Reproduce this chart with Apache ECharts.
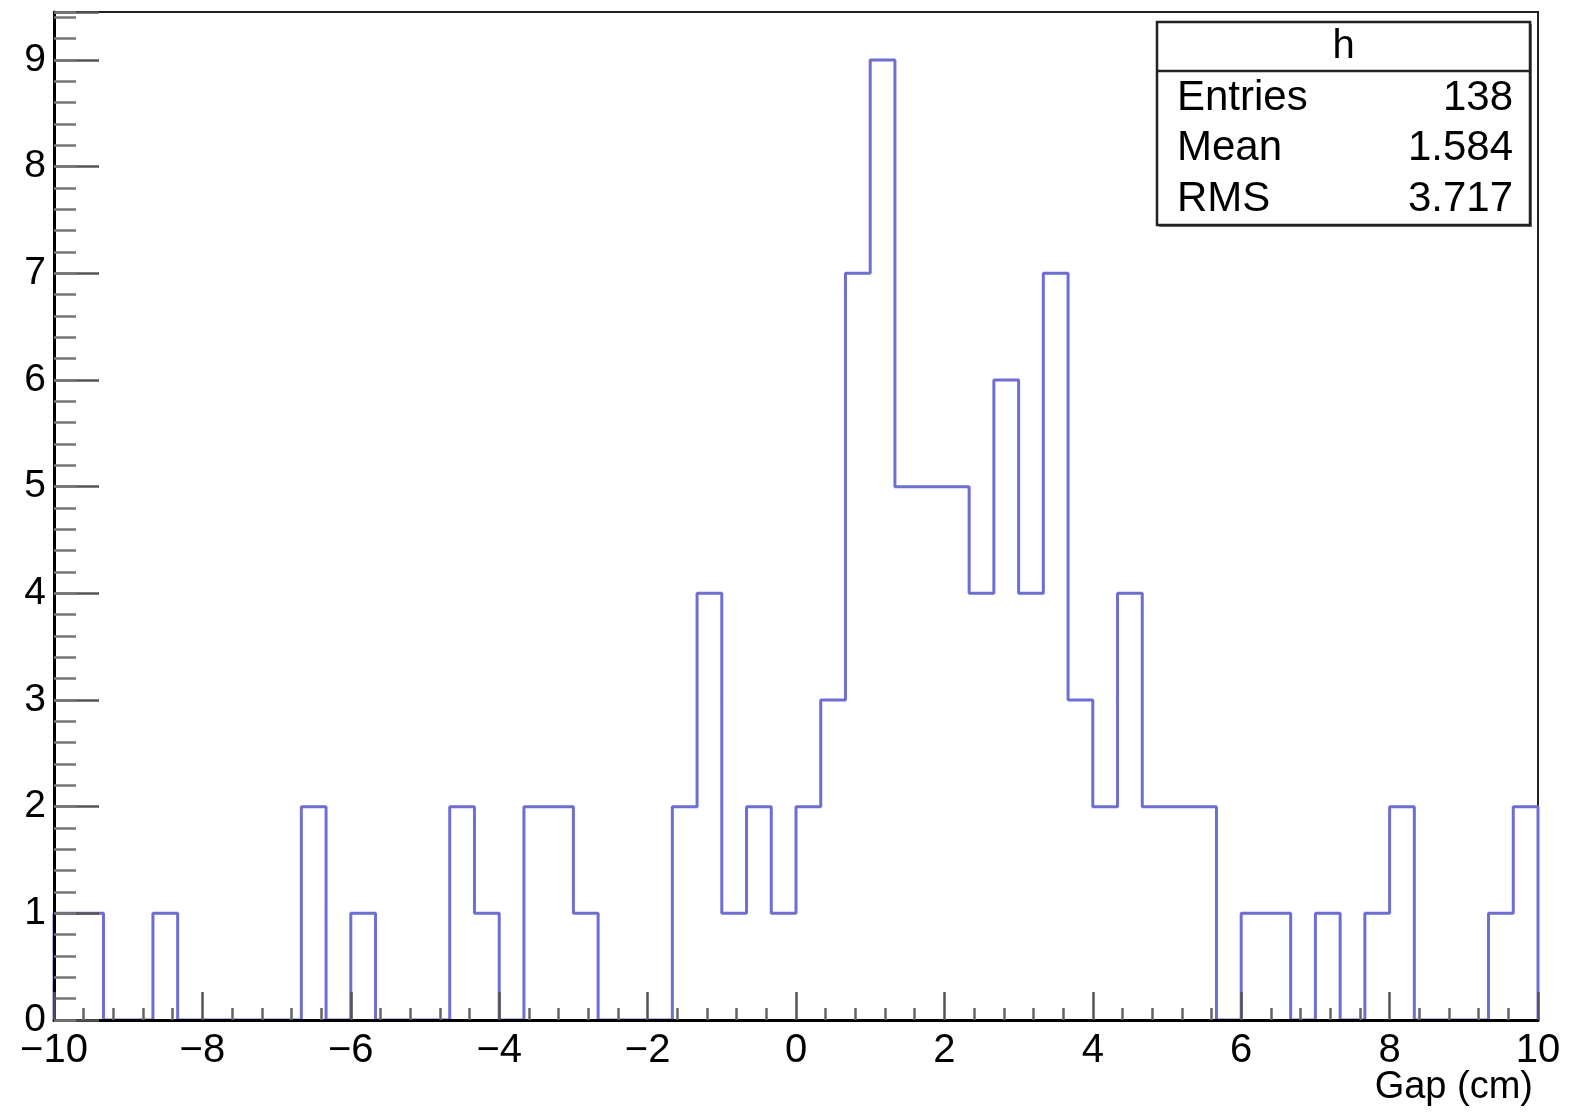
<!DOCTYPE html>
<html>
<head>
<meta charset="utf-8">
<script src="https://cdn.jsdelivr.net/npm/echarts@6/dist/echarts.min.js"></script>
<style>
  html, body { margin: 0; padding: 0; background: #fff; }
  #chart { width: 1569px; height: 1113px; }
</style>
</head>
<body>
<div id="chart"></div>
<script>
// histogram "h": 60 bins from -10 to 10
var xRange = [-10, 10];
var counts = [1, 1, 0, 0, 1, 0, 0, 0, 0, 0,
              2, 0, 1, 0, 0, 0, 2, 1, 0, 2,
              2, 1, 0, 0, 0, 2, 4, 1, 2, 1,
              2, 3, 7, 9, 5, 5, 5, 4, 6, 4,
              7, 3, 2, 4, 2, 2, 2, 0, 1, 1,
              0, 1, 0, 1, 2, 0, 0, 0, 1, 2];
var yMax = 9.45;
var statsTitle = 'h';
var statsLabels = ['Entries', 'Mean', 'RMS'];
var statsValues = ['138', '1.584', '3.717'];
var xTitle = 'Gap (cm)';

var FONT = '"Liberation Sans", Arial, Helvetica, sans-serif';

// outline points of the histogram (bin edges -> counts)
var binW = (xRange[1] - xRange[0]) / counts.length;
var outline = [[xRange[0], 0]];
counts.forEach(function (v, i) {
    var lo = xRange[0] + i * binW;
    outline.push([lo, v], [lo + binW, v]);
});
outline.push([xRange[1], 0]);

function minus(v) {
    return String(v).replace('-', '\u2212');
}

var chart = echarts.init(document.getElementById('chart'));

// stats box
var boxL = 1157, boxT = 22, boxW = 373, boxH = 203;
var statsGraphics = [
    { type: 'rect', shape: { x: boxL + 2, y: boxT + 2, width: boxW, height: boxH },
      style: { fill: '#777', stroke: null }, z: 9 },
    { type: 'rect', shape: { x: boxL, y: boxT, width: boxW, height: boxH },
      style: { fill: '#fff', stroke: '#222', lineWidth: 2.5 }, z: 10 },
    { type: 'line', shape: { x1: boxL, y1: 71, x2: boxL + boxW, y2: 71 },
      style: { stroke: '#222', lineWidth: 2.5 }, z: 11 },
    { type: 'text', x: boxL + boxW / 2, y: 47, z: 11,
      style: { text: statsTitle, font: '40px ' + FONT, fill: '#000', align: 'center', verticalAlign: 'middle' } }
];
statsLabels.forEach(function (lab, i) {
    var y = 98 + i * 50.5;
    statsGraphics.push(
        { type: 'text', x: 1177, y: y, z: 11,
          style: { text: lab, font: '42px ' + FONT, fill: '#000', align: 'left', verticalAlign: 'middle' } },
        { type: 'text', x: 1513, y: y, z: 11,
          style: { text: statsValues[i], font: '42px ' + FONT, fill: '#000', align: 'right', verticalAlign: 'middle' } }
    );
});
statsGraphics.push({
    type: 'text', x: 1533, y: 1088, z: 11,
    style: { text: xTitle, font: '38px ' + FONT, fill: '#000', align: 'right', verticalAlign: 'middle' }
});

var option = {
    backgroundColor: '#fff',
    animation: false,
    grid: {
        left: 54, right: 31, top: 12, bottom: 93,
        show: true, borderColor: '#222', borderWidth: 2, backgroundColor: 'transparent'
    },
    xAxis: {
        type: 'value',
        min: xRange[0], max: xRange[1], interval: 2,
        z: 5,
        axisLine: { show: true, onZero: false, lineStyle: { color: '#000', width: 3 } },
        axisTick: { show: true, inside: true, length: 28, lineStyle: { color: '#555', width: 2.5 } },
        minorTick: { show: true, splitNumber: 5, length: 12, lineStyle: { color: '#666', width: 2.5 } },
        splitLine: { show: false },
        axisLabel: {
            color: '#000', fontSize: 40, fontFamily: FONT, margin: 11,
            formatter: function (v) { return minus(v); }
        }
    },
    yAxis: [{
        type: 'value',
        min: 0, max: yMax, interval: 1,
        z: 5,
        axisLine: { show: true, onZero: false, lineStyle: { color: '#000', width: 3 } },
        axisTick: { show: true, inside: true, length: 45, lineStyle: { color: '#555', width: 2.5 } },
        splitLine: { show: false },
        axisLabel: {
            color: '#000', fontSize: 39, fontFamily: FONT, margin: 8,
            formatter: function (v) { return Math.abs(v - Math.round(v)) < 1e-6 ? String(Math.round(v)) : ''; }
        }
    }, {
        type: 'value',
        position: 'left',
        min: 0, max: yMax, interval: 0.2,
        z: 5,
        axisLine: { show: false, onZero: false },
        axisTick: { show: true, inside: true, length: 22, lineStyle: { color: '#777', width: 2.5 } },
        axisLabel: { show: false },
        splitLine: { show: false }
    }],
    series: [{
        type: 'line',
        data: outline,
        showSymbol: false,
        symbol: 'none',
        z: 2,
        lineStyle: { color: '#6e6ed2', width: 3 },
        silent: true
    }],
    graphic: statsGraphics
};

chart.setOption(option);
</script>
</body>
</html>
